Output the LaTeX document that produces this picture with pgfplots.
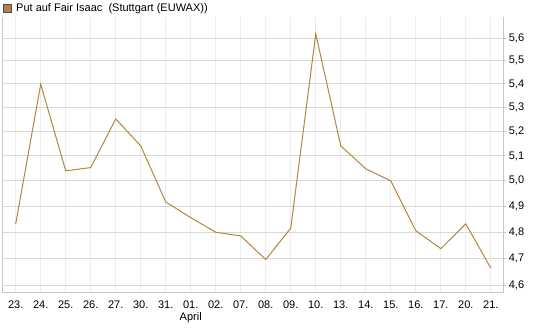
\documentclass[border=0pt]{standalone}
\usepackage{pgfplots}
\pgfplotsset{compat=1.18}
\usepackage{fontspec}
\setmainfont{Liberation Sans}
\definecolor{linec}{RGB}{181,133,60}
\definecolor{legc}{RGB}{176,132,70}
\definecolor{hgrid}{RGB}{217,217,217}
\definecolor{vgrid}{RGB}{236,236,236}
\definecolor{axc}{RGB}{200,200,200}
\begin{document}
\begin{tikzpicture}[x=1bp,y=1bp]
\useasboundingbox (0,0) rectangle (545,327);
\fill[legc,draw=black!70,line width=0.6bp] (3.5,314.5) rectangle (11.5,322.5);
\node[anchor=west,inner sep=0pt,font=\fontsize{11bp}{13bp}\selectfont] at (16,318.5) {Put auf Fair Isaac\ \ (Stuttgart (EUWAX))};
\begin{axis}[
  at={(2.7bp,34bp)}, anchor=south west,
  scale only axis, width=500.6bp, height=276bp,
  ymode=log,
  xmin=-0.52, xmax=19.5, ymin=4.574, ymax=5.695,
  axis line style={draw=none},
  xtick={0,...,19},
  xticklabels={23.,24.,25.,26.,27.,30.,31.,{01.\\April},02.,07.,08.,09.,10.,13.,14.,15.,16.,17.,20.,21.},
  xticklabel style={align=center, anchor=north, yshift=-1bp, font=\fontsize{11bp}{12.5bp}\selectfont},
  ytick={4.6,4.7,4.8,4.9,5.0,5.1,5.2,5.3,5.4,5.5,5.6},
  yticklabels={{4,6},{4,7},{4,8},{4,9},{5,0},{5,1},{5,2},{5,3},{5,4},{5,5},{5,6}},
  yticklabel pos=right,
  yticklabel style={anchor=west, xshift=-1bp, font=\fontsize{11bp}{12bp}\selectfont},
  xmajorgrids, ymajorgrids,
  x grid style={vgrid, line width=1bp},
  y grid style={hgrid, line width=1bp},
  xtick style={draw=none},
  ytick pos=right, tick align=outside,
  major tick length=3bp,
  ytick style={axc, line width=1bp},
  clip=false,
]
\draw[axc, line width=1bp] (rel axis cs:0,1) -- (rel axis cs:0,0) -- (rel axis cs:1,0) -- (rel axis cs:1,1);
\addplot[linec, line width=1bp, mark=none] coordinates {
(0,4.832) (1,5.399) (2,5.040) (3,5.053) (4,5.252) (5,5.141) (6,4.917) (7,4.856)
(8,4.800) (9,4.786) (10,4.697) (11,4.816) (12,5.619) (13,5.141) (14,5.048)
(15,5.000) (16,4.806) (17,4.738) (18,4.832) (19,4.665)
};
\end{axis}
\end{tikzpicture}
\end{document}
